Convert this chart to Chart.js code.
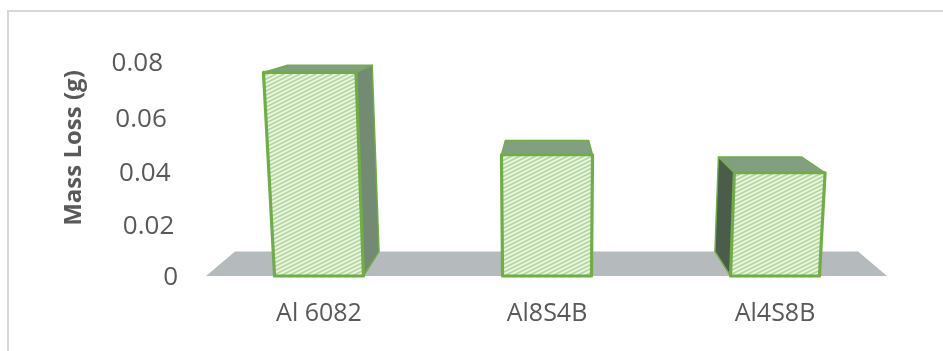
<!DOCTYPE html>
<html>
<head>
<meta charset="utf-8">
<style>html,body{margin:0;padding:0;background:#fff}#w{position:relative;width:943px;height:351px}</style>
<script src="https://cdn.jsdelivr.net/npm/chart.js@4"></script>
</head>
<body>
<div id="w"><canvas id="c" width="943" height="351"></canvas></div>
<script>
const categories = ['Al 6082', 'Al8S4B', 'Al4S8B'];
const massLoss = [0.0763, 0.0465, 0.0398];
const yTicks = [0, 0.02, 0.04, 0.06, 0.08];
const yTitle = 'Mass Loss (g)';

const SAG = 0.06, TICK_LEAN = 15, LEAN = 0.0002, DEPTH = 0.915, VP_Y = -13;
const FONT = '"Open Sans", sans-serif';

class PerspectiveLinear extends Chart.LinearScale {
  getPixelForValue(v) {
    const t = (v - this.min) / (this.max - this.min);
    return this.bottom - (this.bottom - this.top) * (t - SAG * t * (1 - t));
  }
  _computeLabelItems(area) {
    const items = super._computeLabelItems(area);
    items.forEach((it, i) => {
      const t = (this.ticks[i].value - this.min) / (this.max - this.min);
      it.options.translation = [it.options.translation[0] - TICK_LEAN * t, it.options.translation[1] + 1.5];
    });
    return items;
  }
  drawTitle() {
    const ctx = this.ctx;
    ctx.save();
    ctx.translate(0, -21);
    super.drawTitle();
    ctx.restore();
  }
}
PerspectiveLinear.id = 'perspectiveLinear';
PerspectiveLinear.defaults = Chart.LinearScale.defaults;
Chart.register(PerspectiveLinear);

function hatch() {
  const p = document.createElement('canvas');
  p.width = 8; p.height = 4;
  const g = p.getContext('2d');
  g.fillStyle = '#eef6e8'; g.fillRect(0, 0, 8, 4);
  g.strokeStyle = '#b2d79b'; g.lineWidth = 1.8;
  [[-8, 4, 8, -4], [-8, 8, 16, -4], [0, 8, 16, 0]].forEach(s => {
    g.beginPath(); g.moveTo(s[0], s[1]); g.lineTo(s[2], s[3]); g.stroke();
  });
  return g.createPattern(p, 'repeat');
}

function poly(ctx, pts, fill, stroke, lw) {
  ctx.beginPath();
  pts.forEach((p, i) => i ? ctx.lineTo(p[0], p[1]) : ctx.moveTo(p[0], p[1]));
  ctx.closePath();
  ctx.fillStyle = fill; ctx.fill();
  if (stroke) { ctx.strokeStyle = stroke; ctx.lineWidth = lw; ctx.lineJoin = 'round'; ctx.stroke(); }
}

const scene = {
  id: 'scene',
  beforeDraw(chart) {
    const ctx = chart.ctx;
    ctx.save();
    ctx.fillStyle = '#d6d9dc';
    ctx.fillRect(7, 10, 936, 2);
    ctx.fillRect(7, 10, 2, 341);
    ctx.restore();
  },
  beforeDatasetDraw(chart, args) {
    const ctx = chart.ctx, a = chart.chartArea, cx = (a.left + a.right) / 2, y0 = a.bottom;
    const back = p => [cx + (p[0] - cx) * DEPTH, VP_Y + (p[1] - VP_Y) * DEPTH];
    ctx.save();
    const fl = a.left + 1, fr = a.right - 2;
    poly(ctx, [[fl, y0], [fr, y0], back([fr, y0]), back([fl, y0])], '#b5babc');
    chart.getDatasetMeta(args.index).data.forEach(el => {
      const pr = el.getProps(['x', 'y', 'base', 'width'], true), o = el.options;
      const h = pr.base - pr.y, l = pr.x - pr.width / 2, r = pr.x + pr.width / 2;
      const lean = x => cx + (x - cx) * (1 + LEAN * h);
      const bl = [l, pr.base], br = [r, pr.base], tl = [lean(l), pr.y], tr = [lean(r), pr.y];
      const stroke = o.borderColor, lw = o.borderWidth, thin = lw * 0.45;
      if (r < cx) poly(ctx, [br, tr, back(tr), back(br)], '#728b72', stroke, thin);
      if (l > cx) poly(ctx, [bl, tl, back(tl), back(bl)], '#4a5c4a', stroke, thin);
      poly(ctx, [tl, tr, back(tr), back(tl)], '#829f80', stroke, thin);
      poly(ctx, [bl, br, tr, tl], o.backgroundColor, stroke, lw);
    });
    ctx.restore();
    return false;
  }
};

new Chart(document.getElementById('c'), {
  type: 'bar',
  data: {
    labels: categories,
    datasets: [{
      label: yTitle,
      data: massLoss,
      backgroundColor: hatch(),
      borderColor: '#70ad47',
      borderWidth: 3.2,
      barPercentage: 0.39,
      categoryPercentage: 1
    }]
  },
  plugins: [scene],
  options: {
    responsive: false,
    animation: false,
    layout: { padding: { top: 62, right: 54, bottom: 0, left: 0 } },
    plugins: { legend: { display: false }, tooltip: { enabled: false } },
    scales: {
      x: {
        grid: { display: false },
        border: { display: false },
        ticks: { color: '#595959', font: { family: FONT, size: 25 }, padding: 15, maxRotation: 0 },
        afterFit(s) { s.height = 75; }
      },
      y: {
        type: 'perspectiveLinear',
        min: 0, max: 0.08,
        grid: { display: false },
        border: { display: false },
        afterBuildTicks(s) { s.ticks = yTicks.map(v => ({ value: v })); },
        ticks: {
          color: '#595959',
          font: { family: FONT, size: 26 },
          padding: 19,
          callback: v => String(v)
        },
        title: {
          display: true,
          text: yTitle,
          color: '#595959',
          font: { family: FONT, size: 24, weight: 'bold' },
          padding: { top: 60, bottom: 0 }
        },
        afterFit(s) { s.width = 205; }
      }
    }
  }
});
</script>
</body>
</html>
